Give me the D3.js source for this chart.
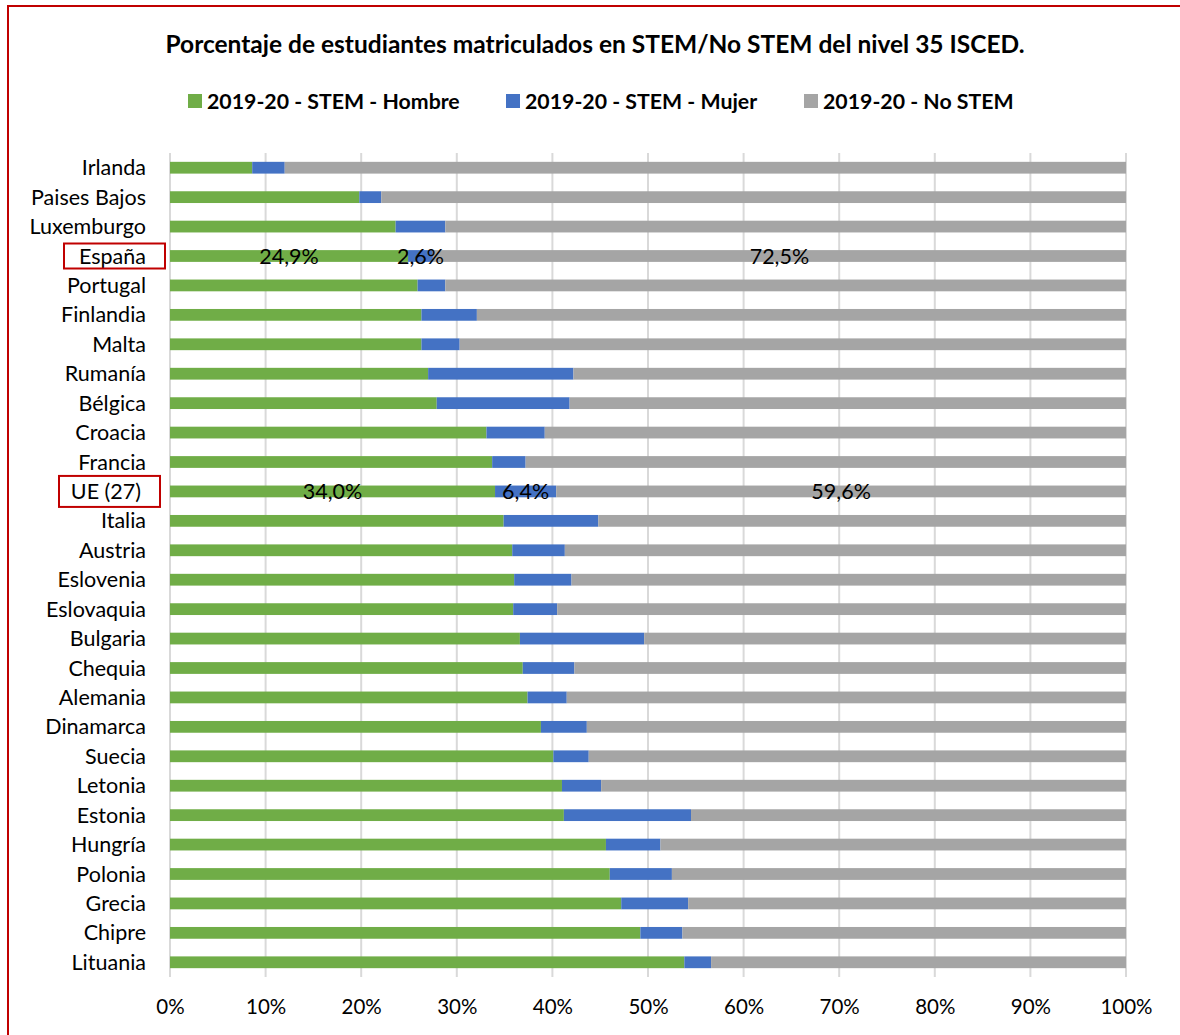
<!DOCTYPE html>
<html>
<head>
<meta charset="utf-8">
<script src="https://cdn.jsdelivr.net/npm/d3@7"></script>
<style>
    body { margin: 0; background: #fff; }
    svg text { font-family: Lato, "Open Sans", sans-serif; fill: #000; }
</style>
</head>
<body>
<div id="chart"></div>
<script>
const countries = ['Irlanda', 'Paises Bajos', 'Luxemburgo', 'España', 'Portugal', 'Finlandia', 'Malta',
    'Rumanía', 'Bélgica', 'Croacia', 'Francia', 'UE (27)', 'Italia', 'Austria', 'Eslovenia', 'Eslovaquia',
    'Bulgaria', 'Chequia', 'Alemania', 'Dinamarca', 'Suecia', 'Letonia', 'Estonia', 'Hungría', 'Polonia',
    'Grecia', 'Chipre', 'Lituania'];

const stemHombre = [8.6, 19.8, 23.6, 24.9, 25.9, 26.3, 26.3, 27.0, 27.9, 33.1, 33.7, 34.0, 34.9, 35.8, 36.0,
    35.9, 36.6, 36.9, 37.4, 38.8, 40.1, 41.0, 41.2, 45.6, 46.0, 47.2, 49.2, 53.8];
const stemMujer = [3.4, 2.3, 5.2, 2.6, 2.9, 5.8, 4.0, 15.2, 13.9, 6.1, 3.5, 6.4, 9.9, 5.5, 6.0,
    4.6, 13.0, 5.4, 4.1, 4.8, 3.7, 4.1, 13.3, 5.7, 6.5, 7.0, 4.4, 2.8];
const noStem = [88.0, 77.9, 71.2, 72.5, 71.2, 67.9, 69.7, 57.8, 58.2, 60.8, 62.8, 59.6, 55.2, 58.7, 58.0,
    59.5, 50.4, 57.7, 58.5, 56.4, 56.2, 54.9, 45.5, 48.7, 47.5, 45.8, 46.4, 43.4];

const seriesNames = ['2019-20 - STEM - Hombre', '2019-20 - STEM - Mujer', '2019-20 - No STEM'];
const seriesColors = ['#70ad47', '#4472c4', '#a5a5a5'];
const xTicks = [0, 10, 20, 30, 40, 50, 60, 70, 80, 90, 100];
const highlighted = ['España', 'UE (27)'];

const W = 1180, H = 1035;
const margin = { top: 153, right: 54, bottom: 58, left: 170 };

const svg = d3.select('#chart').append('svg')
    .attr('width', W)
    .attr('height', H);

// outer red frame (cut at the right and bottom edges like the screenshot)
svg.append('rect')
    .attr('x', 8).attr('y', 6)
    .attr('width', W + 10).attr('height', H + 10)
    .attr('fill', 'none')
    .attr('stroke', '#c00000')
    .attr('stroke-width', 2);

svg.append('text')
    .attr('x', 595).attr('y', 53)
    .attr('text-anchor', 'middle')
    .style('font-size', '24.5px')
    .style('font-weight', 'bold')
    .text('Porcentaje de estudiantes matriculados en STEM/No STEM del nivel 35 ISCED.');

// legend
const legendX = [188, 506, 804];
const legend = svg.append('g').selectAll('g')
    .data(seriesNames)
    .enter().append('g')
        .attr('transform', (d, i) => 'translate(' + legendX[i] + ',101)');
legend.append('rect')
    .attr('x', 0).attr('y', -7)
    .attr('width', 14).attr('height', 14)
    .attr('fill', (d, i) => seriesColors[i]);
legend.append('text')
    .attr('x', 19).attr('y', 7.5)
    .style('font-size', '21.3px')
    .style('font-weight', 'bold')
    .text((d) => d);

const innerW = W - margin.left - margin.right;
const innerH = H - margin.top - margin.bottom;

const g = svg.append('g')
    .attr('transform', 'translate(' + margin.left + ',' + margin.top + ')');

const x = d3.scaleLinear().domain([0, 100]).range([0, innerW]);
const y = d3.scaleBand()
    .domain(countries)
    .range([0, innerH])
    .paddingInner(0.6)
    .paddingOuter(0.3);

// vertical gridlines
g.append('g')
    .selectAll('line')
    .data(xTicks)
    .enter().append('line')
        .attr('x1', (d) => x(d)).attr('x2', (d) => x(d))
        .attr('y1', 0).attr('y2', innerH)
        .attr('stroke', '#d9d9d9')
        .attr('stroke-width', 2);

// stacked bars
const rows = countries.map((c, i) => ({ country: c, values: [stemHombre[i], stemMujer[i], noStem[i]] }));
const stacked = d3.stack().keys([0, 1, 2]).value((d, k) => d.values[k])(rows);

const layers = g.selectAll('.layer')
    .data(stacked)
    .enter().append('g')
        .attr('class', 'layer')
        .attr('fill', (d, i) => seriesColors[i]);

layers.selectAll('rect')
    .data((d) => d)
    .enter().append('rect')
        .attr('x', (d) => x(d[0]))
        .attr('y', (d) => y(d.data.country))
        .attr('width', (d) => x(d[1]) - x(d[0]))
        .attr('height', y.bandwidth());

// data labels only for highlighted rows, drawn on top of every bar
const labels = [];
stacked.forEach((layer) => {
    layer.filter((s) => highlighted.includes(s.data.country))
        .forEach((s) => labels.push({ s: s, key: layer.key }));
});

g.append('g').selectAll('text')
    .data(labels)
    .enter().append('text')
        .attr('x', (d) => x((d.s[0] + d.s[1]) / 2))
        .attr('y', (d) => y(d.s.data.country) + y.bandwidth() / 2 + 7.5)
        .attr('text-anchor', 'middle')
        .style('font-size', '21.5px')
        .text((d) => d.s.data.values[d.key].toFixed(1).replace('.', ',') + '%');

// y axis labels (UE label sits a little left, as in the original)
const labelShift = (c) => c === 'UE (27)' ? -5 : 0;
const yAxis = d3.axisLeft(y).tickSize(0).tickPadding(24);
g.append('g')
    .attr('class', 'y axis')
    .call(yAxis)
    .call((a) => a.select('.domain').remove())
    .selectAll('text')
        .style('font-size', '21.5px')
        .attr('dx', labelShift)
        .attr('dy', '0.35em');

// x axis labels
const xAxis = d3.axisBottom(x).tickValues(xTicks).tickSize(0).tickPadding(22).tickFormat((d) => d + '%');
g.append('g')
    .attr('class', 'x axis')
    .attr('transform', 'translate(0,' + innerH + ')')
    .call(xAxis)
    .call((a) => a.select('.domain').remove())
    .selectAll('text')
        .style('font-size', '20.5px');

// red boxes around highlighted country names
const boxH = { 'España': 25, 'UE (27)': 31 };
highlighted.forEach((c) => {
    const cy = y(c) + y.bandwidth() / 2;
    g.append('rect')
        .attr('x', -5 + labelShift(c) - 101)
        .attr('y', cy - boxH[c] / 2)
        .attr('width', 101)
        .attr('height', boxH[c])
        .attr('fill', 'none')
        .attr('stroke', '#c00000')
        .attr('stroke-width', 2);
});
</script>
</body>
</html>
